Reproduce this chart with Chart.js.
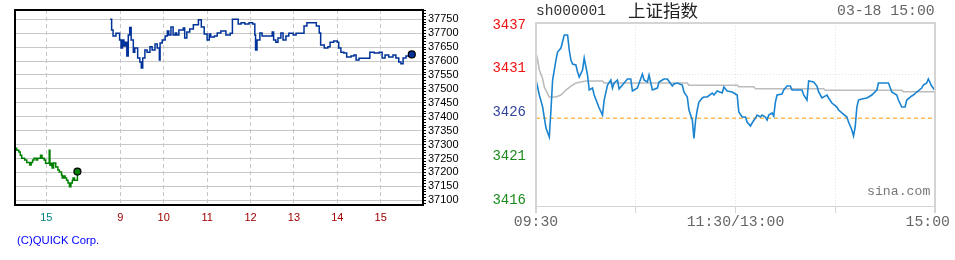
<!DOCTYPE html>
<html>
<head>
<meta charset="utf-8">
<script src="https://cdn.jsdelivr.net/npm/chart.js@4.4.1/dist/chart.umd.min.js"></script>
<style>
  html, body { margin: 0; padding: 0; background: #fff; }
  body { width: 955px; height: 260px; position: relative; overflow: hidden; }
  canvas { position: absolute; top: 0; }
  #nk_chart { left: 0; }
  #sh_chart { left: 480px; }
  .txt { position: absolute; white-space: nowrap; }
  .mono { font-family: "Liberation Mono", "DejaVu Sans Mono", monospace; }
</style>
</head>
<body>
<canvas id="nk_chart" width="480" height="260"></canvas>
<canvas id="sh_chart" width="475" height="260"></canvas>

<div class="txt" style="left:17px; top:234px; font:11.3px/13px 'Liberation Sans', Arial, sans-serif; color:#0000ff;">(C)QUICK Corp.</div>
<div class="txt mono" style="left:536px; top:3px; font-size:14.6px; line-height:17.5px; color:#333;">sh000001</div>
<div class="txt" style="left:628px; top:-1px; font-size:17.5px; line-height:21px; font-family:'Noto Sans CJK SC', sans-serif; color:#222;">上证指数</div>
<div class="txt mono" style="left:837px; top:3px; font-size:14.8px; line-height:17.5px; color:#666;">03-18 15:00</div>
<div class="txt mono" style="left:867px; top:184px; font-size:13.2px; line-height:15.8px; color:#777;">sina.com</div>

<script>
// ---- left: Nikkei 225 futures (QUICK), minute of day ----
const nkPrevMinutes = [855, 857, 859, 861, 862, 864, 866, 869, 870, 873, 876, 877, 879, 881, 883, 886, 888, 890,
    892, 894, 896, 897, 899, 904, 905, 906, 908, 910, 912, 913, 916, 918, 921, 922, 924, 926, 928, 930, 932, 934,
    936, 937, 939, 941, 943];
const nkPrevPrices = [37290, 37287, 37280, 37280, 37273, 37262, 37251, 37251, 37245, 37236, 37236, 37227, 37236,
    37245, 37251, 37245, 37251, 37251, 37262, 37251, 37251, 37245, 37233, 37280, 37226, 37233, 37216, 37234, 37234,
    37220, 37209, 37202, 37191, 37180, 37187, 37180, 37172, 37162, 37149, 37162, 37172, 37180, 37172, 37172, 37203];

const nkMinutes = [526, 528, 530, 534, 539, 541, 543, 545, 547, 549, 551, 553, 555, 558, 560, 564, 567, 569, 571,
    574, 577, 581, 584, 588, 591, 594, 595, 598, 602, 605, 607, 610, 613, 616, 618, 621, 624, 627, 629, 632, 636,
    641, 646, 648, 652, 656, 660, 663, 665, 670, 674, 679, 686, 692, 695, 700, 703, 707, 712, 718, 723, 726, 727,
    729, 733, 736, 741, 747, 750, 752, 755, 758, 762, 765, 769, 773, 779, 783, 790, 794, 798, 806, 811, 815, 817,
    822, 827, 830, 835, 840, 842, 845, 849, 853, 859, 863, 866, 870, 880, 885, 891, 898, 902, 906, 911, 917, 921,
    925, 928, 931, 935, 939, 943];
const nkPrices = [37750, 37712, 37690, 37700, 37676, 37647, 37676, 37654, 37668, 37618, 37694, 37721, 37676, 37632,
    37647, 37611, 37597, 37575, 37611, 37640, 37632, 37651, 37640, 37661, 37647, 37604, 37665, 37676, 37690, 37708,
    37694, 37722, 37694, 37701, 37694, 37712, 37712, 37719, 37683, 37704, 37715, 37730, 37730, 37748, 37722, 37697,
    37676, 37697, 37686, 37690, 37701, 37708, 37694, 37700, 37750, 37750, 37733, 37738, 37733, 37738, 37733, 37694,
    37640, 37676, 37701, 37690, 37690, 37690, 37704, 37676, 37668, 37683, 37701, 37676, 37690, 37700, 37694, 37700,
    37700, 37726, 37738, 37738, 37726, 37701, 37658, 37647, 37651, 37668, 37672, 37668, 37647, 37632, 37629, 37615,
    37618, 37622, 37604, 37610, 37610, 37632, 37629, 37632, 37611, 37622, 37615, 37622, 37611, 37597, 37590, 37611,
    37618, 37625, 37624];

const nkHourLabels = ['15', '9', '10', '11', '12', '13', '14', '15'];
const nkHourMinutes = [900, 540, 600, 660, 720, 780, 840, 900];   // first one belongs to the previous day
const nkPriceLabels = [37100, 37150, 37200, 37250, 37300, 37350, 37400, 37450, 37500, 37550, 37600, 37650, 37700, 37750];

// ---- right: SSE Composite (sina), minutes after 09:30 (13:00 continues at 120) ----
const shMinutes = [0, 2, 4, 6, 8, 9, 10, 12, 13, 15, 17, 19, 20, 21, 22, 24, 25, 26, 28, 29, 31, 32, 34, 35, 38, 40,
    41, 43, 45, 46, 47, 49, 50, 52, 55, 57, 58, 59, 61, 64, 65, 67, 68, 70, 73, 74, 76, 77, 79, 82, 83, 85, 88, 89,
    91, 92, 94, 95, 96, 97, 98, 100, 101, 103, 106, 107, 109, 112, 113, 115, 118, 119,
    121, 122, 124, 126, 127, 129, 130, 132, 133, 135, 136, 138, 139, 140, 142, 143, 144, 145, 148, 149, 151, 153,
    154, 157, 160, 161, 163, 164, 167, 169, 170, 172, 175, 176, 178, 181, 182, 184, 187, 188, 190, 191, 192, 193,
    194, 196, 199, 200, 202, 205, 206, 208, 212, 214, 217, 218, 220, 222, 223, 226, 227, 229, 232, 233, 235, 236,
    238, 240];
const shPrices = [3431.04, 3429.23, 3427.78, 3425.24, 3424.16, 3427.42, 3431.04, 3433.45, 3434.42, 3434.90, 3436.47,
    3436.47, 3434.66, 3433.45, 3432.97, 3432.85, 3432.00, 3431.40, 3432.25, 3433.69, 3431.64, 3429.83, 3430.07,
    3429.23, 3427.66, 3426.81, 3428.62, 3430.43, 3431.04, 3430.07, 3430.68, 3431.04, 3429.95, 3430.43, 3431.16,
    3431.16, 3429.71, 3429.83, 3430.07, 3431.76, 3431.04, 3430.80, 3431.64, 3429.83, 3430.07, 3430.80, 3431.04,
    3431.16, 3431.16, 3430.31, 3430.56, 3430.68, 3430.43, 3429.59, 3428.99, 3427.42, 3426.21, 3424.00, 3426.21,
    3427.42, 3428.38, 3428.87, 3428.99, 3428.99, 3429.47, 3429.23, 3429.71, 3429.47, 3430.19, 3429.71, 3429.59,
    3429.47,
    3429.23, 3427.18, 3426.57, 3426.57, 3425.97, 3425.49, 3425.85, 3426.45, 3426.81, 3426.57, 3426.81, 3426.57,
    3426.21, 3426.81, 3427.06, 3426.69, 3428.38, 3429.23, 3429.35, 3429.83, 3430.31, 3430.31, 3429.83, 3429.83,
    3429.83, 3429.23, 3428.62, 3430.92, 3430.80, 3430.31, 3429.59, 3428.87, 3429.23, 3428.87, 3428.26, 3427.78,
    3427.42, 3427.06, 3426.57, 3425.97, 3425.00, 3424.28, 3425.37, 3427.78, 3428.62, 3428.74, 3428.87, 3428.99,
    3429.23, 3429.83, 3430.68, 3430.68, 3430.68, 3429.59, 3429.23, 3428.62, 3427.78, 3427.78, 3428.62, 3429.11,
    3429.23, 3429.59, 3430.07, 3430.43, 3430.68, 3431.16, 3430.31, 3429.76];

const shAvgMinutes = [0, 1, 2, 4, 5, 7, 8, 12, 15, 18, 21, 24, 27, 30, 40, 41, 91, 92, 121, 122, 131, 132, 173, 174, 220, 221, 240];
const shAvgPrices = [3434.30, 3433.45, 3432.25, 3431.20, 3430.19, 3429.40, 3428.99, 3428.99, 3429.23, 3429.83,
    3430.31, 3430.68, 3430.80, 3430.92, 3430.92, 3430.68, 3430.68, 3430.40, 3430.40, 3430.23, 3430.23, 3429.99,
    3429.99, 3429.80, 3429.80, 3429.63, 3429.63];

const shPrevClose = 3426.43;
const shYTicks = [3415.83, 3421.13, 3426.43, 3431.73, 3437.03];
const shYLabels = ['3416', '3421', '3426', '3431', '3437'];
const shYColors = ['#1b8a1b', '#1b8a1b', '#33449a', '#ee1111', '#ee1111'];
const shTimeTicks = [0, 120, 240];
const shTimeLabels = ['09:30', '11:30/13:00', '15:00'];

// previous session is drawn just left of today's 9:00
const PREV_SHIFT = 462.3;

function toPoints(xs, ys, shift) {
    return xs.map((x, i) => ({ x: x - (shift || 0), y: ys[i] }));
}

function lastOnly(radius) {
    return (ctx) => ctx.dataIndex === ctx.dataset.data.length - 1 ? radius : 0;
}

const nkFrame = {
    id: 'nkFrame',
    afterDraw(chart) {
        const { ctx, chartArea: a } = chart;
        ctx.save();
        ctx.strokeStyle = '#000';
        ctx.lineWidth = 2;
        ctx.strokeRect(a.left, a.top, a.right - a.left, a.bottom - a.top);
        ctx.restore();
    }
};

new Chart(document.getElementById('nk_chart'), {
    type: 'line',
    data: {
        datasets: [{
            data: toPoints(nkMinutes, nkPrices),
            borderColor: '#003399',
            backgroundColor: '#003399',
            borderWidth: 1.5,
            stepped: true,
            pointRadius: lastOnly(3.5),
            pointBorderColor: '#000',
            pointBorderWidth: 1.2
        }, {
            data: toPoints(nkPrevMinutes, nkPrevPrices, PREV_SHIFT),
            borderColor: '#008000',
            backgroundColor: '#008000',
            borderWidth: 1.5,
            stepped: true,
            pointRadius: lastOnly(3.5),
            pointBorderColor: '#000',
            pointBorderWidth: 1.2
        }]
    },
    options: {
        responsive: false,
        animation: false,
        layout: { padding: { left: 15, top: 10, right: 0, bottom: 0 } },
        plugins: { legend: { display: false }, tooltip: { enabled: false } },
        scales: {
            x: {
                type: 'linear',
                min: 394.4,
                max: 958.5,
                afterBuildTicks: (scale) => {
                    scale.ticks = nkHourMinutes.map((m, i) => ({ value: i === 0 ? m - PREV_SHIFT : m }));
                },
                afterFit: (scale) => { scale.height = 55; },
                ticks: {
                    autoSkip: false,
                    maxRotation: 0,
                    padding: 6,
                    font: { family: 'Liberation Sans', size: 11 },
                    color: (ctx) => ctx.index === 0 ? '#008080' : '#a00000',
                    callback: (value, index) => nkHourLabels[index]
                },
                grid: { color: '#c8c8c8', lineWidth: 1, drawTicks: false },
                border: { display: false, dash: [4, 3] }
            },
            y: {
                position: 'right',
                min: 37083.1,
                max: 37783.4,
                afterBuildTicks: (scale) => {
                    const t = [];
                    for (let v = 37090; v <= 37780; v += 10) t.push({ value: v });
                    scale.ticks = t;
                },
                afterFit: (scale) => { scale.width = 57; },
                ticks: {
                    autoSkip: false,
                    padding: 2,
                    font: { family: 'Liberation Sans', size: 11 },
                    color: '#000',
                    callback: (value) => nkPriceLabels.includes(value) ? String(value) : ''
                },
                grid: {
                    color: (ctx) => ctx.tick && ctx.tick.value % 50 === 0 ? '#c8c8c8' : 'rgba(0,0,0,0)',
                    tickColor: '#000',
                    tickLength: 3,
                    drawTicks: true
                },
                border: { display: false }
            }
        }
    },
    plugins: [nkFrame]
});

const shFrame = {
    id: 'shFrame',
    afterDraw(chart) {
        const { ctx, chartArea: a } = chart;
        const xs = chart.scales.x;
        ctx.save();
        ctx.strokeStyle = '#d4d4d4';
        ctx.lineWidth = 2;
        ctx.beginPath();
        ctx.moveTo(a.left, a.bottom + 7);
        ctx.lineTo(a.left, a.top);
        ctx.lineTo(a.right, a.top);
        ctx.lineTo(a.right, a.bottom + 7);
        ctx.stroke();
        ctx.lineWidth = 1;
        ctx.beginPath();
        ctx.moveTo(a.left, a.bottom + 0.5);
        ctx.lineTo(a.right, a.bottom + 0.5);
        ctx.stroke();

        ctx.fillStyle = '#666';
        ctx.font = '14.8px "Liberation Mono", monospace';
        ctx.textBaseline = 'middle';
        shTimeTicks.forEach((m, i) => {
            const last = i === shTimeTicks.length - 1;
            ctx.textAlign = last ? 'right' : 'center';
            ctx.fillText(shTimeLabels[i], xs.getPixelForValue(m) + (last ? 15 : 0), 222);
        });
        ctx.restore();
    }
};

new Chart(document.getElementById('sh_chart'), {
    type: 'line',
    data: {
        datasets: [{
            data: toPoints(shMinutes, shPrices),
            borderColor: '#1a84d0',
            borderWidth: 1.6,
            pointRadius: 0,
            tension: 0
        }, {
            data: toPoints(shAvgMinutes, shAvgPrices),
            borderColor: '#bcbcbc',
            borderWidth: 1.6,
            pointRadius: 0,
            tension: 0
        }, {
            data: [{ x: 0, y: shPrevClose }, { x: 240, y: shPrevClose }],
            borderColor: '#ff9900',
            borderWidth: 1,
            borderDash: [4, 3],
            pointRadius: 0
        }]
    },
    options: {
        responsive: false,
        animation: false,
        layout: { padding: { left: 0, top: 23, right: 20, bottom: 0 } },
        plugins: { legend: { display: false }, tooltip: { enabled: false } },
        scales: {
            x: {
                type: 'linear',
                min: 0,
                max: 240,
                afterBuildTicks: (scale) => {
                    scale.ticks = [0, 60, 120, 180, 240].map(v => ({ value: v }));
                },
                afterFit: (scale) => { scale.height = 54; },
                ticks: { display: false },
                grid: {
                    color: (ctx) => ctx.index > 0 && ctx.index < 4 ? '#e4e4e4' : 'rgba(0,0,0,0)',
                    tickColor: '#d4d4d4',
                    tickLength: 7,
                    drawTicks: true
                },
                border: { display: false, dash: [1, 2] }
            },
            y: {
                min: 3415.83,
                max: 3437.92,
                afterBuildTicks: (scale) => {
                    scale.ticks = shYTicks.map(v => ({ value: v }));
                },
                afterFit: (scale) => { scale.width = 56; },
                ticks: {
                    autoSkip: false,
                    padding: 10,
                    labelOffset: -5.5,
                    font: { family: 'Liberation Mono', size: 14 },
                    color: (ctx) => shYColors[ctx.index],
                    callback: (value, index) => shYLabels[index]
                },
                grid: {
                    color: (ctx) => ctx.index === 3 ? '#e4e4e4' : 'rgba(0,0,0,0)',
                    drawTicks: false
                },
                border: { display: false, dash: [1, 2] }
            }
        }
    },
    plugins: [shFrame]
});
</script>
</body>
</html>
